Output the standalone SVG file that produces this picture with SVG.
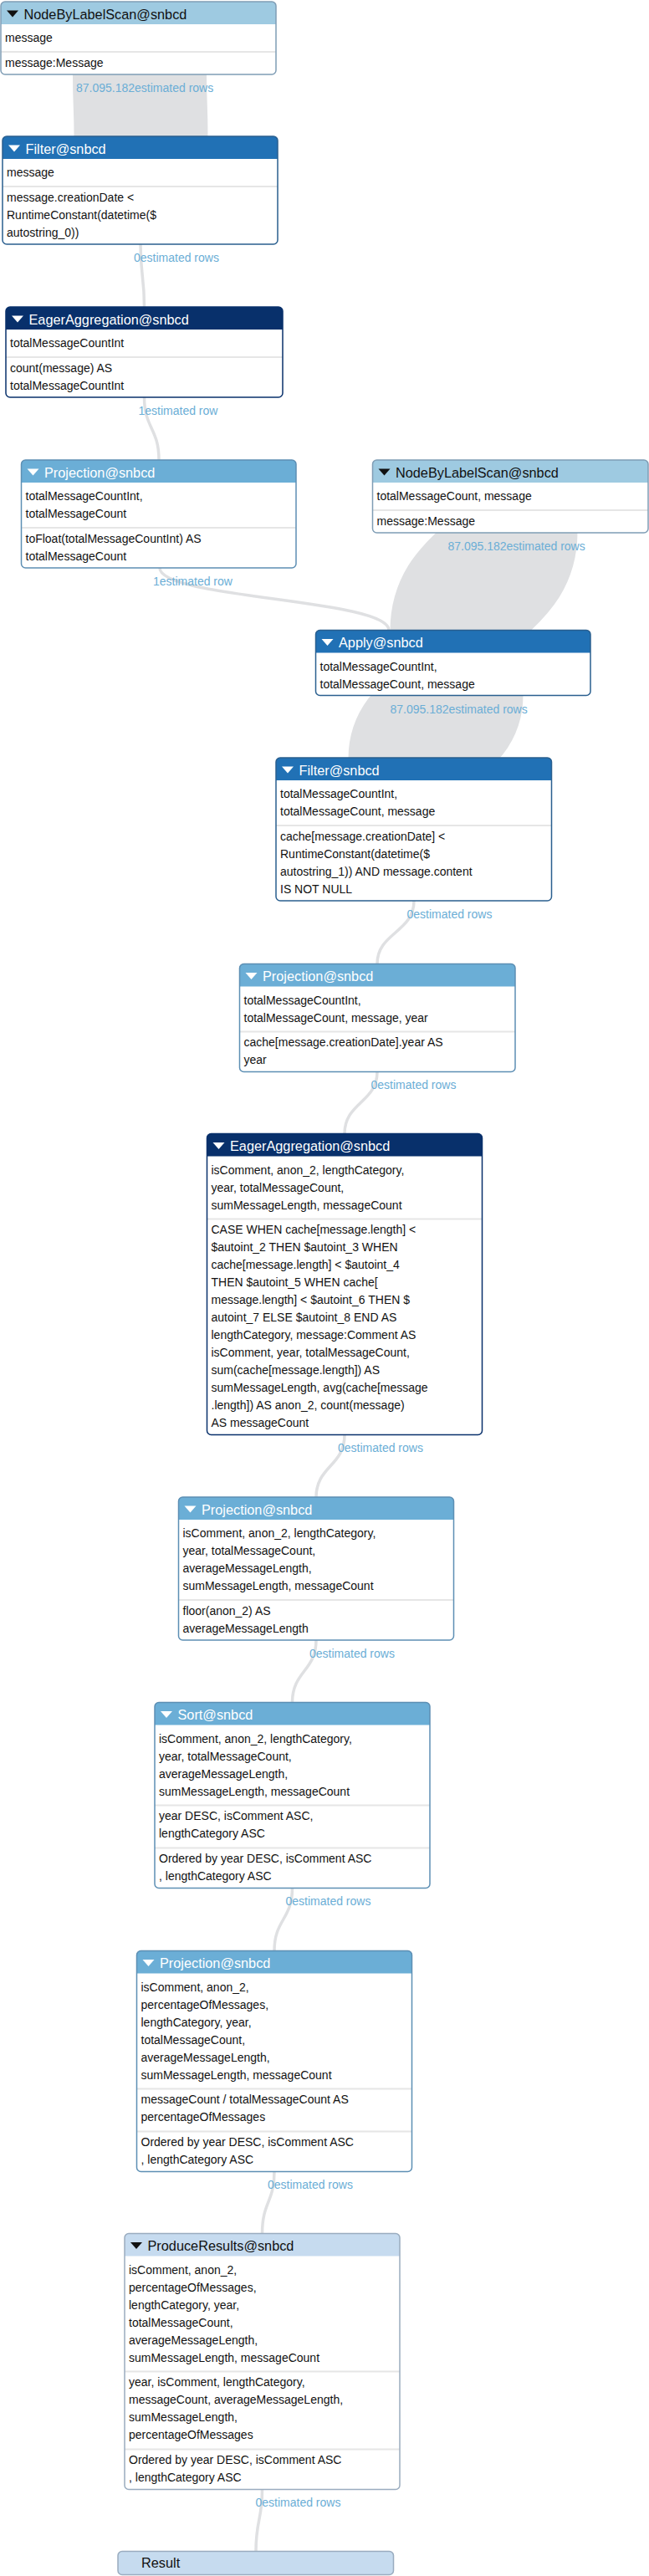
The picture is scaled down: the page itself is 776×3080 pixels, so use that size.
<svg xmlns="http://www.w3.org/2000/svg" width="776" height="3080" viewBox="0 0 776 3080">
<style>
.band{fill:none;stroke:#dfe0e2}
.link{fill:none;stroke:#dfe0e2;stroke-width:3.5}
.lbl{font-family:"Liberation Sans",Arial,sans-serif;font-size:14px;fill:#6baed6}
.t{font-family:"Liberation Sans",Arial,sans-serif;font-size:14px;fill:#111}
.h{font-family:"Liberation Sans",Arial,sans-serif;font-size:16.3px}
.hw{fill:#fff}
.hb{fill:#111}
.dv{stroke:#e6e6e6;stroke-width:2}
.bg{fill:#fff}
.bd{fill:none;stroke-width:1.5}
.c1{fill:#9ecae1}.s1{stroke:#7f9db5}
.c2{fill:#2171b5}.s2{stroke:#2a5f8f}
.c3{fill:#08306b}.s3{stroke:#08306b}
.c4{fill:#6baed6}.s4{stroke:#5d8fb4}
.c5{fill:#c6dbef}.s5{stroke:#9aacbf}
</style>
<g id="connectors">
<path class="band" stroke-width="160" d="M167,88 C167,126 168.5,126 168.5,164"/>
<path class="band" stroke-width="163" d="M609,636 C609,695 548,695 548,754"/>
<path class="band" stroke-width="161" d="M545,831 C545,868 497,868 497,907"/>
<path class="link" d="M168,292 C168,330 172.5,330 172.5,367"/>
<path class="link" d="M172.5,475 C172.5,512 190,512 190,550"/>
<path class="link" d="M191,679 C191,716 465,716 465,753.5"/>
<path class="link" d="M495,1077 C495,1115 451,1115 451,1152.5"/>
<path class="link" d="M451,1281.5 C451,1318 412,1318 412,1355.5"/>
<path class="link" d="M412,1715.5 C412,1753 378,1753 378,1790"/>
<path class="link" d="M378,1961 C378,1998 349.5,1998 349.5,2035.5"/>
<path class="link" d="M349.5,2257.5 C349.5,2295 328,2295 328,2332.5"/>
<path class="link" d="M328,2596.5 C328,2633 313.5,2633 313.5,2670.5"/>
<path class="link" d="M313.5,2976.5 C313.5,3013 306,3013 306,3050.5"/>
<text class="lbl" x="91" y="110">87.095.182estimated rows</text>
<text class="lbl" x="160" y="313">0estimated rows</text>
<text class="lbl" x="165.5" y="496">1estimated row</text>
<text class="lbl" x="183" y="700">1estimated row</text>
<text class="lbl" x="535.5" y="657.5">87.095.182estimated rows</text>
<text class="lbl" x="466.5" y="852.5">87.095.182estimated rows</text>
<text class="lbl" x="486.5" y="1097.5">0estimated rows</text>
<text class="lbl" x="443.5" y="1301.5">0estimated rows</text>
<text class="lbl" x="404" y="1735.5">0estimated rows</text>
<text class="lbl" x="370" y="1981.5">0estimated rows</text>
<text class="lbl" x="341.5" y="2277.5">0estimated rows</text>
<text class="lbl" x="320" y="2616.5">0estimated rows</text>
<text class="lbl" x="305.5" y="2996.5">0estimated rows</text>
</g>

<g id="node-scan1">
<rect class="bg" x="1" y="2" width="329" height="87" rx="5"/>
<path class="c1" d="M1,29 V7 Q1,2 6,2 H325 Q330,2 330,7 V29 Z"/>
<polygon class="hb" points="8,12.5 22,12.5 15,20.5"/>
<text class="h hb" x="28.5" y="22.5">NodeByLabelScan@snbcd</text>
<text class="t" x="6" y="50">message</text>
<line class="dv" x1="1" y1="62" x2="330" y2="62"/>
<text class="t" x="6" y="79.5">message:Message</text>
<rect class="bd s1" x="1" y="2" width="329" height="87" rx="5"/>
</g>

<g id="node-filter1">
<rect class="bg" x="3" y="163" width="329" height="129" rx="5"/>
<path class="c2" d="M3,190 V168 Q3,163 8,163 H327 Q332,163 332,168 V190 Z"/>
<polygon class="hw" points="10,173.5 24,173.5 17,181.5"/>
<text class="h hw" x="30.5" y="183.5">Filter@snbcd</text>
<text class="t" x="8" y="211">message</text>
<line class="dv" x1="3" y1="223" x2="332" y2="223"/>
<text class="t" x="8" y="240.5">message.creationDate &lt;</text>
<text class="t" x="8" y="261.5">RuntimeConstant(datetime($</text>
<text class="t" x="8" y="282.5">autostring_0))</text>
<rect class="bd s2" x="3" y="163" width="329" height="129" rx="5"/>
</g>

<g id="node-agg1">
<rect class="bg" x="7" y="367" width="331" height="108" rx="5"/>
<path class="c3" d="M7,394 V372 Q7,367 12,367 H333 Q338,367 338,372 V394 Z"/>
<polygon class="hw" points="14,377.5 28,377.5 21,385.5"/>
<text class="h hw" x="34.5" y="387.5">EagerAggregation@snbcd</text>
<text class="t" x="12" y="415">totalMessageCountInt</text>
<line class="dv" x1="7" y1="427" x2="338" y2="427"/>
<text class="t" x="12" y="444.5">count(message) AS</text>
<text class="t" x="12" y="465.5">totalMessageCountInt</text>
<rect class="bd s3" x="7" y="367" width="331" height="108" rx="5"/>
</g>

<g id="node-proj1">
<rect class="bg" x="25.5" y="550" width="328.5" height="129" rx="5"/>
<path class="c4" d="M25.5,577 V555 Q25.5,550 30.5,550 H349 Q354,550 354,555 V577 Z"/>
<polygon class="hw" points="32.5,560.5 46.5,560.5 39.5,568.5"/>
<text class="h hw" x="53" y="570.5">Projection@snbcd</text>
<text class="t" x="30.5" y="598">totalMessageCountInt,</text>
<text class="t" x="30.5" y="619">totalMessageCount</text>
<line class="dv" x1="25.5" y1="631" x2="354" y2="631"/>
<text class="t" x="30.5" y="648.5">toFloat(totalMessageCountInt) AS</text>
<text class="t" x="30.5" y="669.5">totalMessageCount</text>
<rect class="bd s4" x="25.5" y="550" width="328.5" height="129" rx="5"/>
</g>

<g id="node-scan2">
<rect class="bg" x="445.5" y="550" width="329.5" height="87" rx="5"/>
<path class="c1" d="M445.5,577 V555 Q445.5,550 450.5,550 H770 Q775,550 775,555 V577 Z"/>
<polygon class="hb" points="452.5,560.5 466.5,560.5 459.5,568.5"/>
<text class="h hb" x="473" y="570.5">NodeByLabelScan@snbcd</text>
<text class="t" x="450.5" y="598">totalMessageCount, message</text>
<line class="dv" x1="445.5" y1="610" x2="775" y2="610"/>
<text class="t" x="450.5" y="627.5">message:Message</text>
<rect class="bd s1" x="445.5" y="550" width="329.5" height="87" rx="5"/>
</g>

<g id="node-apply">
<rect class="bg" x="377.5" y="753.5" width="328.5" height="78" rx="5"/>
<path class="c2" d="M377.5,780.5 V758.5 Q377.5,753.5 382.5,753.5 H701 Q706,753.5 706,758.5 V780.5 Z"/>
<polygon class="hw" points="384.5,764 398.5,764 391.5,772"/>
<text class="h hw" x="405" y="774">Apply@snbcd</text>
<text class="t" x="382.5" y="801.5">totalMessageCountInt,</text>
<text class="t" x="382.5" y="822.5">totalMessageCount, message</text>
<rect class="bd s2" x="377.5" y="753.5" width="328.5" height="78" rx="5"/>
</g>

<g id="node-filter2">
<rect class="bg" x="330" y="906" width="329.5" height="171" rx="5"/>
<path class="c2" d="M330,933 V911 Q330,906 335,906 H654.5 Q659.5,906 659.5,911 V933 Z"/>
<polygon class="hw" points="337,916.5 351,916.5 344,924.5"/>
<text class="h hw" x="357.5" y="926.5">Filter@snbcd</text>
<text class="t" x="335" y="954">totalMessageCountInt,</text>
<text class="t" x="335" y="975">totalMessageCount, message</text>
<line class="dv" x1="330" y1="987" x2="659.5" y2="987"/>
<text class="t" x="335" y="1004.5">cache[message.creationDate] &lt;</text>
<text class="t" x="335" y="1025.5">RuntimeConstant(datetime($</text>
<text class="t" x="335" y="1046.5">autostring_1)) AND message.content</text>
<text class="t" x="335" y="1067.5">IS NOT NULL</text>
<rect class="bd s2" x="330" y="906" width="329.5" height="171" rx="5"/>
</g>

<g id="node-proj2">
<rect class="bg" x="286.5" y="1152.5" width="329.5" height="129" rx="5"/>
<path class="c4" d="M286.5,1179.5 V1157.5 Q286.5,1152.5 291.5,1152.5 H611 Q616,1152.5 616,1157.5 V1179.5 Z"/>
<polygon class="hw" points="293.5,1163 307.5,1163 300.5,1171"/>
<text class="h hw" x="314" y="1173">Projection@snbcd</text>
<text class="t" x="291.5" y="1200.5">totalMessageCountInt,</text>
<text class="t" x="291.5" y="1221.5">totalMessageCount, message, year</text>
<line class="dv" x1="286.5" y1="1233.5" x2="616" y2="1233.5"/>
<text class="t" x="291.5" y="1251">cache[message.creationDate].year AS</text>
<text class="t" x="291.5" y="1272">year</text>
<rect class="bd s4" x="286.5" y="1152.5" width="329.5" height="129" rx="5"/>
</g>

<g id="node-agg2">
<rect class="bg" x="247.5" y="1355.5" width="329" height="360" rx="5"/>
<path class="c3" d="M247.5,1382.5 V1360.5 Q247.5,1355.5 252.5,1355.5 H571.5 Q576.5,1355.5 576.5,1360.5 V1382.5 Z"/>
<polygon class="hw" points="254.5,1366 268.5,1366 261.5,1374"/>
<text class="h hw" x="275" y="1376">EagerAggregation@snbcd</text>
<text class="t" x="252.5" y="1403.5">isComment, anon_2, lengthCategory,</text>
<text class="t" x="252.5" y="1424.5">year, totalMessageCount,</text>
<text class="t" x="252.5" y="1445.5">sumMessageLength, messageCount</text>
<line class="dv" x1="247.5" y1="1457.5" x2="576.5" y2="1457.5"/>
<text class="t" x="252.5" y="1475">CASE WHEN cache[message.length] &lt;</text>
<text class="t" x="252.5" y="1496">$autoint_2 THEN $autoint_3 WHEN</text>
<text class="t" x="252.5" y="1517">cache[message.length] &lt; $autoint_4</text>
<text class="t" x="252.5" y="1538">THEN $autoint_5 WHEN cache[</text>
<text class="t" x="252.5" y="1559">message.length] &lt; $autoint_6 THEN $</text>
<text class="t" x="252.5" y="1580">autoint_7 ELSE $autoint_8 END AS</text>
<text class="t" x="252.5" y="1601">lengthCategory, message:Comment AS</text>
<text class="t" x="252.5" y="1622">isComment, year, totalMessageCount,</text>
<text class="t" x="252.5" y="1643">sum(cache[message.length]) AS</text>
<text class="t" x="252.5" y="1664">sumMessageLength, avg(cache[message</text>
<text class="t" x="252.5" y="1685">.length]) AS anon_2, count(message)</text>
<text class="t" x="252.5" y="1706">AS messageCount</text>
<rect class="bd s3" x="247.5" y="1355.5" width="329" height="360" rx="5"/>
</g>

<g id="node-proj3">
<rect class="bg" x="213.5" y="1790" width="329" height="171" rx="5"/>
<path class="c4" d="M213.5,1817 V1795 Q213.5,1790 218.5,1790 H537.5 Q542.5,1790 542.5,1795 V1817 Z"/>
<polygon class="hw" points="220.5,1800.5 234.5,1800.5 227.5,1808.5"/>
<text class="h hw" x="241" y="1810.5">Projection@snbcd</text>
<text class="t" x="218.5" y="1838">isComment, anon_2, lengthCategory,</text>
<text class="t" x="218.5" y="1859">year, totalMessageCount,</text>
<text class="t" x="218.5" y="1880">averageMessageLength,</text>
<text class="t" x="218.5" y="1901">sumMessageLength, messageCount</text>
<line class="dv" x1="213.5" y1="1913" x2="542.5" y2="1913"/>
<text class="t" x="218.5" y="1930.5">floor(anon_2) AS</text>
<text class="t" x="218.5" y="1951.5">averageMessageLength</text>
<rect class="bd s4" x="213.5" y="1790" width="329" height="171" rx="5"/>
</g>

<g id="node-sort">
<rect class="bg" x="185" y="2035.5" width="329" height="222" rx="5"/>
<path class="c4" d="M185,2062.5 V2040.5 Q185,2035.5 190,2035.5 H509 Q514,2035.5 514,2040.5 V2062.5 Z"/>
<polygon class="hw" points="192,2046 206,2046 199,2054"/>
<text class="h hw" x="212.5" y="2056">Sort@snbcd</text>
<text class="t" x="190" y="2083.5">isComment, anon_2, lengthCategory,</text>
<text class="t" x="190" y="2104.5">year, totalMessageCount,</text>
<text class="t" x="190" y="2125.5">averageMessageLength,</text>
<text class="t" x="190" y="2146.5">sumMessageLength, messageCount</text>
<line class="dv" x1="185" y1="2158.5" x2="514" y2="2158.5"/>
<text class="t" x="190" y="2176">year DESC, isComment ASC,</text>
<text class="t" x="190" y="2197">lengthCategory ASC</text>
<line class="dv" x1="185" y1="2209.5" x2="514" y2="2209.5"/>
<text class="t" x="190" y="2227">Ordered by year DESC, isComment ASC</text>
<text class="t" x="190" y="2248">, lengthCategory ASC</text>
<rect class="bd s4" x="185" y="2035.5" width="329" height="222" rx="5"/>
</g>

<g id="node-proj4">
<rect class="bg" x="163.5" y="2332.5" width="329" height="264" rx="5"/>
<path class="c4" d="M163.5,2359.5 V2337.5 Q163.5,2332.5 168.5,2332.5 H487.5 Q492.5,2332.5 492.5,2337.5 V2359.5 Z"/>
<polygon class="hw" points="170.5,2343 184.5,2343 177.5,2351"/>
<text class="h hw" x="191" y="2353">Projection@snbcd</text>
<text class="t" x="168.5" y="2380.5">isComment, anon_2,</text>
<text class="t" x="168.5" y="2401.5">percentageOfMessages,</text>
<text class="t" x="168.5" y="2422.5">lengthCategory, year,</text>
<text class="t" x="168.5" y="2443.5">totalMessageCount,</text>
<text class="t" x="168.5" y="2464.5">averageMessageLength,</text>
<text class="t" x="168.5" y="2485.5">sumMessageLength, messageCount</text>
<line class="dv" x1="163.5" y1="2497.5" x2="492.5" y2="2497.5"/>
<text class="t" x="168.5" y="2515">messageCount / totalMessageCount AS</text>
<text class="t" x="168.5" y="2536">percentageOfMessages</text>
<line class="dv" x1="163.5" y1="2548.5" x2="492.5" y2="2548.5"/>
<text class="t" x="168.5" y="2566">Ordered by year DESC, isComment ASC</text>
<text class="t" x="168.5" y="2587">, lengthCategory ASC</text>
<rect class="bd s4" x="163.5" y="2332.5" width="329" height="264" rx="5"/>
</g>

<g id="node-produce">
<rect class="bg" x="149" y="2670.5" width="329" height="306" rx="5"/>
<path class="c5" d="M149,2697.5 V2675.5 Q149,2670.5 154,2670.5 H473 Q478,2670.5 478,2675.5 V2697.5 Z"/>
<polygon class="hb" points="156,2681 170,2681 163,2689"/>
<text class="h hb" x="176.5" y="2691">ProduceResults@snbcd</text>
<text class="t" x="154" y="2718.5">isComment, anon_2,</text>
<text class="t" x="154" y="2739.5">percentageOfMessages,</text>
<text class="t" x="154" y="2760.5">lengthCategory, year,</text>
<text class="t" x="154" y="2781.5">totalMessageCount,</text>
<text class="t" x="154" y="2802.5">averageMessageLength,</text>
<text class="t" x="154" y="2823.5">sumMessageLength, messageCount</text>
<line class="dv" x1="149" y1="2835.5" x2="478" y2="2835.5"/>
<text class="t" x="154" y="2853">year, isComment, lengthCategory,</text>
<text class="t" x="154" y="2874">messageCount, averageMessageLength,</text>
<text class="t" x="154" y="2895">sumMessageLength,</text>
<text class="t" x="154" y="2916">percentageOfMessages</text>
<line class="dv" x1="149" y1="2928.5" x2="478" y2="2928.5"/>
<text class="t" x="154" y="2946">Ordered by year DESC, isComment ASC</text>
<text class="t" x="154" y="2967">, lengthCategory ASC</text>
<rect class="bd s5" x="149" y="2670.5" width="329" height="306" rx="5"/>
</g>

<g id="node-result">
<rect class="c5 bd s5" x="141" y="3050.5" width="329.5" height="28" rx="5" style="fill:#c6dbef"/>
<text class="h hb" x="169" y="3070">Result</text>
</g>
</svg>
